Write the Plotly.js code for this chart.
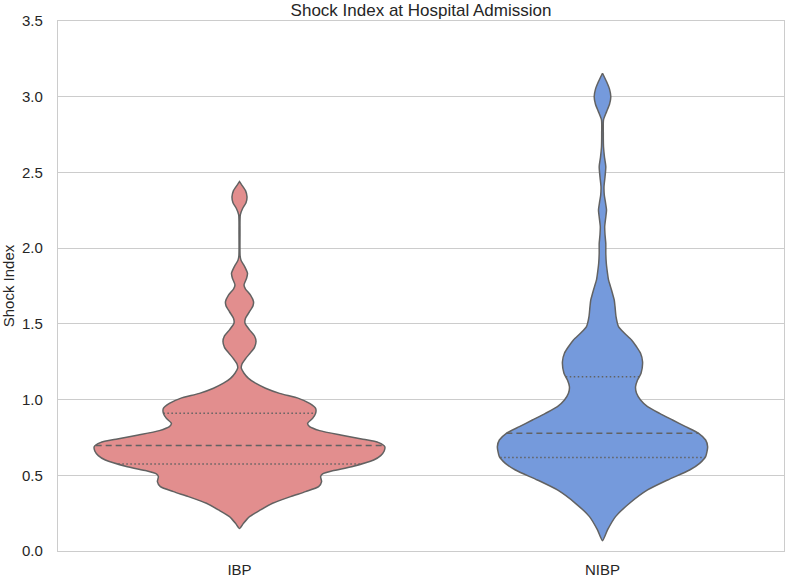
<!DOCTYPE html>
<html>
<head>
<meta charset="utf-8">
<script src="https://cdn.plot.ly/plotly-3.0.1.min.js"></script>
<style>html,body{margin:0;padding:0;background:#fff;}#chart{width:787px;height:578px;}</style>
</head>
<body>
<div id="chart"></div>
<script>
// ---- data ----
var categories = ['IBP', 'NIBP'];

// estimated kernel-density profile (relative density) along Shock Index
var ibpLevels = [0.148,0.183,0.227,0.271,0.315,0.359,0.392,0.425,0.458,0.491,0.510,0.530,0.557,0.601,0.630,0.660,0.690,0.716,0.740,0.766,0.795,0.821,0.843,0.876,0.909,0.942,0.975,1.008,1.041,1.075,1.108,1.140,1.174,1.207,1.235,1.270,1.310,1.345,1.383,1.420,1.460,1.504,1.537,1.580,1.620,1.647,1.690,1.730,1.757,1.800,1.834,1.880,1.920,1.950,2.100,2.220,2.260,2.300,2.340,2.380,2.420,2.440];
var ibpDensity = [0,4,10,21,33,51,66,79,82,81,83,93,112,134,141,144.5,145,139,122,101,80,70,68,73,76,76,70,59,40,26,16,9,4.5,1.8,2.5,6,11,15,16.5,15,10,5.5,6,10,13.5,14,11,6,4.5,7,8,5,1.5,0.6,0.5,0.8,3,6.5,7.5,6,2,0];

var nibpLevels = [0.068,0.139,0.227,0.315,0.403,0.469,0.535,0.579,0.623,0.689,0.733,0.777,0.821,0.865,0.909,0.953,0.997,1.041,1.085,1.129,1.174,1.250,1.306,1.349,1.394,1.438,1.482,1.548,1.614,1.658,1.700,1.746,1.790,1.834,1.900,1.966,2.030,2.090,2.142,2.200,2.252,2.300,2.350,2.406,2.470,2.538,2.600,2.670,2.760,2.847,2.900,2.950,3.000,3.050,3.100,3.155];
var nibpDensity = [0,5,13,27,45,65,87,97,103,105,103,96,83,70,57,45,38,34,33,35,38.5,40,38,34,29,22,16,13.5,12.5,11.7,10,8,6,5,3.8,3.3,3.3,2.5,2.2,3.2,4,3,1.8,1.5,2.5,3.3,2,1,0.8,1,4,7,8.3,7,4,0];

// quartiles [Q1, median, Q3]
var ibpQuartiles = [0.575, 0.696, 0.909];
var nibpQuartiles = [0.617, 0.777, 1.151];

var yTicks = [0.0,0.5,1.0,1.5,2.0,2.5,3.0,3.5];

// ---- styling ----
var fills = ['#e28e8e', '#759adc'];
var edge = '#626262';
var halfWidthMax = 0.4;           // seaborn width 0.8
var densMax = Math.max.apply(null, ibpDensity.concat(nibpDensity));
var scale = halfWidthMax / densMax;

function interp(levels, dens, y) {
  for (var i = 0; i < levels.length - 1; i++) {
    if (y >= levels[i] && y <= levels[i+1]) {
      var t = (y - levels[i]) / (levels[i+1] - levels[i]);
      return dens[i] + t * (dens[i+1] - dens[i]);
    }
  }
  return 0;
}

var traces = [];
var groups = [[ibpLevels, ibpDensity, ibpQuartiles], [nibpLevels, nibpDensity, nibpQuartiles]];
groups.forEach(function (g, k) {
  var lv = g[0], d = g[1], q = g[2];
  var xs = [], ys = [];
  for (var i = 0; i < lv.length; i++) { xs.push(k - d[i] * scale); ys.push(lv[i]); }
  for (var j = lv.length - 1; j >= 0; j--) { xs.push(k + d[j] * scale); ys.push(lv[j]); }
  traces.push({
    type: 'scatter', mode: 'lines', x: xs, y: ys, fill: 'toself',
    fillcolor: fills[k], line: {color: edge, width: 1.5, shape: 'spline', smoothing: 0.6},
    hoverinfo: 'skip', showlegend: false
  });
  q.forEach(function (qv, m) {
    var hw = interp(lv, d, qv) * scale;
    traces.push({
      type: 'scatter', mode: 'lines', x: [k - hw, k + hw], y: [qv, qv],
      line: {color: edge, width: 1.5, dash: m === 1 ? '6px,4px' : '1.5px,2.5px'},
      hoverinfo: 'skip', showlegend: false
    });
  });
});

var layout = {
  width: 787, height: 578,
  margin: {l: 58, r: 3, t: 21, b: 27},
  paper_bgcolor: '#ffffff', plot_bgcolor: '#ffffff',
  font: {family: 'Liberation Sans, Arial, sans-serif', size: 15, color: '#262626'},
  title: {text: 'Shock Index at Hospital Admission', font: {size: 17, color: '#262626'},
          x: 0.5, xref: 'paper', xanchor: 'center', y: 1 - 10/578, yref: 'container', yanchor: 'middle'},
  xaxis: {
    range: [-0.5, 1.5], tickmode: 'array', tickvals: [0, 1], ticktext: categories,
    showgrid: false, zeroline: false, showline: true, mirror: true,
    linecolor: '#cccccc', linewidth: 1.25, ticks: '', ticklabelstandoff: 5,
    tickfont: {size: 15, color: '#262626'}, fixedrange: true
  },
  yaxis: {
    range: [0, 3.5], tickmode: 'array', tickvals: yTicks,
    ticktext: yTicks.map(function (v) { return v.toFixed(1); }),
    showgrid: true, gridcolor: '#cccccc', gridwidth: 1.25, zeroline: false,
    showline: true, mirror: true, linecolor: '#cccccc', linewidth: 1.25,
    ticks: '', ticklabelstandoff: 11,
    title: {text: 'Shock Index', font: {size: 15, color: '#262626'}, standoff: 5},
    tickfont: {size: 15, color: '#262626'}, fixedrange: true
  },
  hovermode: false
};

Plotly.newPlot('chart', traces, layout, {displayModeBar: false, staticPlot: true});
</script>
</body>
</html>
